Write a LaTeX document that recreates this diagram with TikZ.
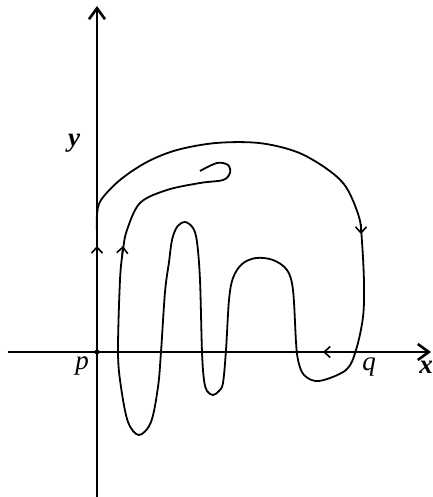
\documentclass[tikz,border=0pt]{standalone}
\usepackage{fontspec}
\setmainfont{Liberation Serif}
\usetikzlibrary{arrows.meta}
\tikzset{
  >={Straight Barb[length=11pt,width=16pt]},
  axis/.style={->,line width=2.6pt},
  curve/.style={line width=1.8pt,line join=round},
  dirmark/.style={-{Straight Barb[length=6pt,width=11pt]},line width=1.6pt},
  ptlbl/.style={font=\fontsize{27}{29}\selectfont\itshape,inner sep=0pt},
  axlbl/.style={font=\fontsize{27}{29}\selectfont\bfseries\itshape,inner sep=0pt},
}
\begin{document}
\begin{tikzpicture}[x=1pt,y=1pt]
  \useasboundingbox (-97,-145) rectangle (335,352);
  \coordinate (p) at (0,0);
  \coordinate (q) at (259,0);
  \coordinate (xl) at (-89,0);
  \coordinate (xr) at (334,0);
  \coordinate (yb) at (0,-145);
  \coordinate (yt) at (0,346);
  % the loop
  \draw[curve] plot[smooth,tension=0.55] coordinates {
    (0,120) (0,137) (4,152) (23,172) (50,190) (80,202) (119,209) (162,209)
    (200,200) (230,183) (249,165) (262,135) (265,110) (267,69) (266,35)
    (259,2) (249,-18) (222,-29) (207,-23) (201,-8) (199,10) (196,62)
    (190,82) (176,92) (159,94) (145,88) (136,74) (132,52) (129,2) (126,-31)
    (122,-39) (116,-43) (110,-39) (107,-28) (105,0) (103,72) (100,110)
    (96,124) (88,130) (80,125) (75,112) (72,90) (68,60) (64,0)
    (61,-35) (54,-70) (42,-83) (31,-70) (24,-35) (21,0) (23,72) (26,102)
    (30,122) (43,149) (70,162) (103,169) (126,172) (133,179) (131,187)
    (120,189) (103,181)};
  % axes
  \draw[axis] (xl) -- (xr);
  \draw[axis] (yb) -- (yt);
  \fill (p) circle (2.4pt);
  % direction marks
  \draw[dirmark] (0,96) -- (0,106);
  \draw[dirmark] (25,96) -- (26,106);
  \draw[dirmark] (264,128) -- (264,118);
  \draw[dirmark] (234,0) -- (226,0);
  % labels
  \node[ptlbl] (plbl) at (-15,-14) {p};
  \node[ptlbl] (qlbl) at (272,-15) {q};
  \node[axlbl] (xlbl) at (329,-15) {x};
  \node[axlbl] (ylbl) at (-23,209) {y};
\end{tikzpicture}
\end{document}
